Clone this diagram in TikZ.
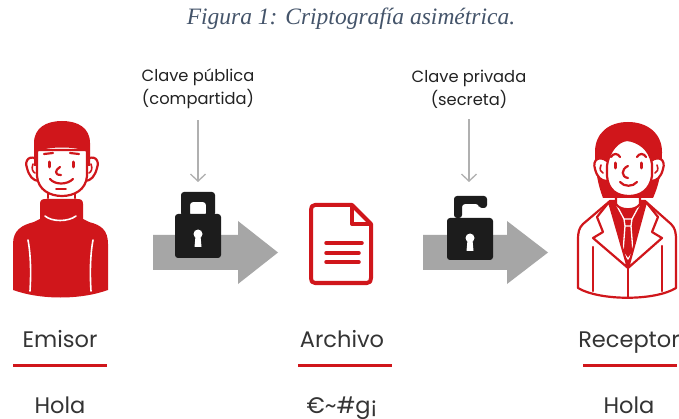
\documentclass[tikz,border=0pt]{standalone}
\usepackage{fontspec}
\setmainfont{Poppins}
\newfontfamily\capfont{Liberation Serif}
\usetikzlibrary{arrows.meta}
\definecolor{brand}{RGB}{208,22,27}
\definecolor{arrowgray}{RGB}{166,166,166}
\definecolor{thingray}{RGB}{176,176,176}
\definecolor{lockblack}{RGB}{28,28,28}
\definecolor{ink}{RGB}{34,34,34}
\definecolor{softink}{RGB}{52,52,52}
\definecolor{capblue}{RGB}{68,84,106}

\tikzset{
  redline/.style={draw=brand,line width=2.2pt,line cap=round,line join=round},
  seam/.style={draw=white,line width=1.6pt,line cap=round},
  thinarrow/.style={draw=thingray,line width=1.3pt,
    -{Straight Barb[length=7pt,width=15pt]}},
  bigarrow/.style={fill=arrowgray},
  keylabel/.style={font=\fontsize{16.3}{23}\selectfont,text=ink,align=center,inner sep=0pt},
  rolelabel/.style={font=\fontsize{22.5}{26}\selectfont,text=softink,inner sep=0pt,anchor=base},
  underbar/.style={draw=brand,line width=3pt},
  closedlock/.pic={
    \fill[lockblack,even odd rule,rounded corners=3pt]
      (-17,-20) rectangle (17,-44) (-8,-20) rectangle (8,-34);
    \fill[lockblack,rounded corners=3pt] (-23,-22) rectangle (23,22);
    \fill[white] (0,-2) circle (4.5);
    \fill[white] (-2.5,0) -- (2.5,0) -- (3.5,11) -- (-3.5,11) -- cycle;
  },
  openlock/.pic={
    \fill[lockblack,rounded corners=3pt]
      (-16,-20) -- (-16,-42) -- (17,-42) -- (17,-30) -- (9,-30)
      -- (9,-34) -- (-8,-34) -- (-8,-20) -- cycle;
    \fill[lockblack,rounded corners=3pt] (-23,-20) rectangle (23,22);
    \fill[white] (0,-0) circle (4.5);
    \fill[white] (-2.5,2) -- (2.5,2) -- (3.5,13) -- (-3.5,13) -- cycle;
  }
}

\begin{document}
\begin{tikzpicture}[x=1pt,y=-1pt]
\useasboundingbox (0,0) rectangle (679,419);
\fill[white] (0,0) rectangle (679,419);

% caption
\node[font=\capfont\itshape\fontsize{23.5}{27}\selectfont,text=capblue]
  (cap) at (351,19) {Figura 1: Criptografía asimétrica.};

% key labels
\node[keylabel] (pub) at (198,89) {Clave pública\\(compartida)};
\node[keylabel] (priv) at (469,89) {Clave privada\\(secreta)};

% big transfer arrows
\fill[bigarrow] (153,235) -- (238,235) -- (238,221) -- (278,252.5)
  -- (238,284) -- (238,270) -- (153,270) -- cycle;
\fill[bigarrow] (423,235) -- (507,235) -- (507,221) -- (548,252.5)
  -- (507,284) -- (507,270) -- (423,270) -- cycle;

% locks
\pic at (198,236) {closedlock};
\pic at (470,238) {openlock};
\coordinate (kL) at (198,182);
\coordinate (kR) at (469,182);
\draw[thinarrow,shorten <=11pt] (pub.south) -- (kL);
\draw[thinarrow,shorten <=11pt] (priv.south) -- (kR);

% ---------- sender ----------
% sweater with turtleneck
\fill[brand] (13,290) -- (13,244) .. controls (13,230) and (22,225) .. (34,222)
  -- (40,219) -- (40,204) .. controls (40,200) and (42,199) .. (46,199)
  -- (77,199) .. controls (81,199) and (83,200) .. (83,204) -- (83,219)
  -- (89,222) .. controls (101,225) and (108,230) .. (108,244)
  -- (108,290) .. controls (80,300) and (41,300) .. (13,290) -- cycle;
\draw[seam] (28,240) .. controls (31,256) and (31,275) .. (30,291);
\draw[seam] (93,240) .. controls (90,256) and (90,275) .. (91,291);
\draw[seam] (45,216) .. controls (52,222) and (68,222) .. (76,216);
% neck
\fill[white] (48,185) rectangle (75,198.5);
\draw[redline] (48,186) -- (48,198);
\draw[redline] (75,186) -- (75,198);
% ears
\filldraw[fill=white,redline] (38,160) .. controls (30,154) and (24,160) .. (27,168)
  .. controls (29,176) and (33,181) .. (39,181);
\draw[redline,line width=1.6pt] (33,164) .. controls (31,169) and (33,172) .. (35,173);
\filldraw[fill=white,redline] (86,160) .. controls (94,154) and (100,160) .. (97,168)
  .. controls (95,176) and (91,181) .. (85,181);
\draw[redline,line width=1.6pt] (91,164) .. controls (93,169) and (91,172) .. (89,173);
% face
\filldraw[fill=white,redline] (37,150) -- (37,176) .. controls (38,190) and (50,196) .. (62,196)
  .. controls (74,196) and (86,190) .. (87,176) -- (87,150) -- cycle;
% hair
\fill[brand] (34,166) -- (34,143) .. controls (34,128) and (46,121) .. (62,121)
  .. controls (78,121) and (90,128) .. (90,143) -- (90,166) -- (87,166)
  -- (87,152) .. controls (78,146) and (46,146) .. (37,152) -- (37,166) -- cycle;
% features
\draw[redline] (44,154) -- (53,153);
\draw[redline] (70,153) -- (79,154);
\draw[redline,line width=3pt] (49,162) -- (49,167);
\draw[redline,line width=3pt] (73,162) -- (73,167);
\draw[redline] (60,167) .. controls (55,170) and (54,175) .. (61,175);
\draw[redline] (50,179) .. controls (55,185) and (67,185) .. (73,179);
\draw[redline,line width=1.8pt] (56,189) -- (66,189);

% ---------- receiver ----------
% coat
\filldraw[fill=white,redline] (610,201) -- (583,224) .. controls (579,228) and (578,232) .. (578,240)
  -- (578,288) .. controls (600,301) and (655,301) .. (676,288) -- (676,240)
  .. controls (676,232) and (675,228) .. (671,224) -- (645,201) -- cycle;
% shirt and tie
\fill[brand] (609,202) -- (646,202) -- (628,268) -- cycle;
\draw[seam,line width=1.3pt] (617,206) -- (624,219);
\draw[seam,line width=1.3pt] (639,206) -- (632,219);
\draw[seam,line width=1.3pt,line join=round] (624,219) -- (632,219) -- (631,226) -- (625,226) -- cycle;
\draw[seam,line width=1.3pt,line join=round] (625,226) -- (623,252) -- (628,259) -- (633,252) -- (631,226);
% neck
\fill[white] (616,188) -- (616,204) .. controls (620,211) and (636,211) .. (640,204) -- (640,188) -- cycle;
\draw[redline] (616,190) -- (616,204) .. controls (620,211) and (636,211) .. (640,204) -- (640,190);
% lapels
\filldraw[fill=white,redline] (609,202) -- (597,217) -- (603,232) -- (593,238) -- (628,268) -- cycle;
\filldraw[fill=white,redline] (646,202) -- (658,217) -- (652,232) -- (662,238) -- (628,268) -- cycle;
\draw[redline] (628,268) -- (628,297);
\draw[redline] (593,247) -- (593,291);
\draw[redline] (662,246) -- (662,291);
% hair
\fill[brand] (603,198) .. controls (598,185) and (595,170) .. (595,152)
  .. controls (595,133) and (609,122) .. (628,122)
  .. controls (647,122) and (662,133) .. (662,152)
  .. controls (662,170) and (659,185) .. (653,198) -- cycle;
% ears
\filldraw[fill=white,redline] (607,161) .. controls (599,155) and (592,160) .. (595,169)
  .. controls (597,177) and (601,181) .. (607,181);
\draw[redline,line width=1.6pt] (601,165) .. controls (599,170) and (601,172) .. (603,173);
\filldraw[fill=white,redline] (651,161) .. controls (659,155) and (666,160) .. (663,169)
  .. controls (661,177) and (657,181) .. (651,181);
\draw[redline,line width=1.6pt] (657,165) .. controls (659,170) and (657,172) .. (655,173);
% face
\filldraw[fill=white,redline] (607,176) -- (607,166) .. controls (609,150) and (618,141) .. (627,140)
  .. controls (638,141) and (650,149) .. (652,164) -- (652,176)
  .. controls (650,190) and (640,196) .. (629,196)
  .. controls (617,196) and (608,190) .. (607,176) -- cycle;
% features
\draw[redline] (611,157) .. controls (613,153) and (618,153) .. (620,157);
\draw[redline] (637,157) .. controls (639,153) and (644,153) .. (646,157);
\draw[redline,line width=3pt] (615,163) -- (615,168);
\draw[redline,line width=3pt] (641,163) -- (641,168);
\draw[redline] (628,166) .. controls (621,169) and (621,177) .. (628,178);
\draw[redline] (620,182) .. controls (624,187) and (633,187) .. (637,182);

% ---------- document ----------
\draw[draw=brand,line width=4pt,line join=round] (315,205) -- (352,205) -- (371,224)
  -- (371,278) .. controls (371,281) and (370,283) .. (367,283)
  -- (315,283) .. controls (312,283) and (311,281) .. (311,278)
  -- (311,210) .. controls (311,207) and (312,205) .. (315,205) -- cycle;
\draw[draw=brand,line width=4pt,line join=round] (352,205) -- (352,224) -- (371,224);
\draw[draw=brand,line width=3.5pt,line cap=round] (326,243) -- (362,243);
\draw[draw=brand,line width=3.5pt,line cap=round] (326,253) -- (359,253);
\draw[draw=brand,line width=3.5pt,line cap=round] (326,262) -- (359,262);

% ---------- role labels ----------
\node[rolelabel] (emisor) at (60,347) {Emisor};
\node[rolelabel] (archivo) at (342,347) {Archivo};
\node[rolelabel] (receptor) at (629,347) {Receptor};
\draw[underbar] (13,365) -- (107,365);
\draw[underbar] (298,365) -- (392,365);
\draw[underbar] (583,365) -- (677,365);
\node[rolelabel] (m1) at (60,413) {Hola};
\node[rolelabel] (m2) at (342,413) {€\textasciitilde\#g¡};
\node[rolelabel] (m3) at (629,413) {Hola};
\end{tikzpicture}
\end{document}
